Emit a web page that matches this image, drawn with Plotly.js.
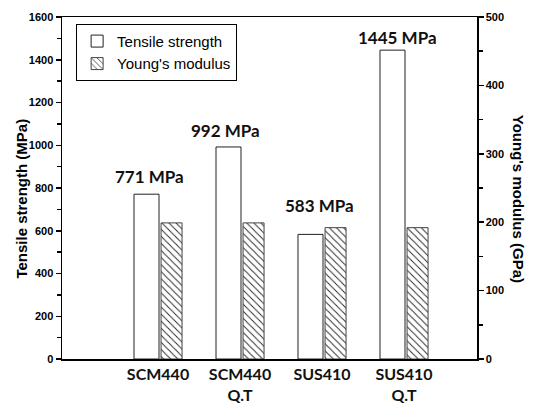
<!DOCTYPE html>
<html>
<head>
<meta charset="utf-8">
<script src="https://cdn.plot.ly/plotly-3.0.1.min.js"></script>
<style>html,body{margin:0;padding:0;background:#fff;}#chart{width:533px;height:403px;}</style>
</head>
<body>
<div id="chart"></div>
<script>
// ---- data ----
const categories = ["SCM440", "SCM440<br>Q.T", "SUS410", "SUS410<br>Q.T"];
const catPos = [1, 2, 3, 4];
const tensileStrength = [771, 992, 583, 1445];   // MPa
const youngsModulus = [199, 199, 192, 192];      // GPa
const labelTexts = ["771 MPa", "992 MPa", "583 MPa", "1445 MPa"];
const yTicks = [0, 200, 400, 600, 800, 1000, 1200, 1400, 1600];
const y2Ticks = [0, 100, 200, 300, 400, 500];

// ---- styles ----
const labelXShift = [-9, -15, -3, -7];
const labelYShift = [18, 16, 29, 13];

const traces = [
  {
    type: 'bar', name: 'Tensile strength',
    x: catPos, y: tensileStrength,
    width: 0.305, offset: -0.293,
    marker: {color: '#ffffff', line: {color: '#222', width: 1}},
    xaxis: 'x', yaxis: 'y'
  },
  {
    type: 'bar', name: "Young's modulus",
    x: catPos, y: youngsModulus,
    width: 0.256, offset: 0.037,
    marker: {color: '#ffffff', line: {color: '#444', width: 1},
             pattern: {shape: '\\', fgcolor: '#222', bgcolor: '#ffffff', size: 5, solidity: 0.18}},
    xaxis: 'x', yaxis: 'y2'
  }
];

const annotations = labelTexts.map((t, i) => ({
  x: catPos[i], y: tensileStrength[i], xref: 'x', yref: 'y',
  text: t, showarrow: false, xshift: labelXShift[i], yshift: labelYShift[i],
  font: {family: 'Lato, "Open Sans", sans-serif', size: 17, color: '#111', weight: 'bold'}
}));
annotations.push({
  xref: 'paper', yref: 'paper', x: -0.098, y: 0.47, xanchor: 'center', yanchor: 'middle',
  text: '<b>Tensile strength (MPa)</b>', textangle: -90, showarrow: false,
  font: {family: '"Liberation Sans", Arial, sans-serif', size: 15, color: '#000'}
});
annotations.push({
  xref: 'paper', yref: 'paper', x: 1.1, y: 0.47, xanchor: 'center', yanchor: 'middle',
  text: "<b>Young's modulus (GPa)</b>", textangle: 90, showarrow: false,
  font: {family: '"Liberation Sans", Arial, sans-serif', size: 15, color: '#000'}
});

const tickFont = {family: '"Liberation Sans", Arial, sans-serif', size: 11, color: '#000', weight: 'bold'};

const layout = {
  width: 533, height: 403,
  margin: {l: 62, r: 56, t: 17, b: 44, pad: 0},
  paper_bgcolor: '#fff', plot_bgcolor: '#fff',
  barmode: 'overlay',
  showlegend: true,
  legend: {
    x: 0.034, y: 0.98, xanchor: 'left', yanchor: 'top',
    bordercolor: '#000', borderwidth: 1, bgcolor: '#fff',
    font: {family: '"Liberation Sans", Arial, sans-serif', size: 15, color: '#000'},
    tracegroupgap: 0, itemwidth: 30
  },
  xaxis: {
    range: [-0.171, 4.89], tickvals: catPos, ticktext: categories,
    showline: true, linecolor: '#000', linewidth: 1.5, mirror: true,
    ticks: '', showgrid: false, zeroline: false,
    tickfont: {family: 'Lato, "Open Sans", sans-serif', size: 16, color: '#111', weight: 'bold'}
  },
  yaxis: {
    range: [0, 1600], tickvals: yTicks,
    showline: true, linecolor: '#000', linewidth: 1.5,
    ticks: 'outside', ticklen: 5, tickwidth: 1.5, tickcolor: '#000',
    minor: {dtick: 100, ticks: 'outside', ticklen: 4, tickwidth: 1.5, tickcolor: '#000', showgrid: false},
    showgrid: false, zeroline: false, tickfont: tickFont
  },
  yaxis2: {
    range: [0, 500], tickvals: y2Ticks, overlaying: 'y', side: 'right',
    showline: true, linecolor: '#000', linewidth: 1.5,
    ticks: 'outside', ticklen: 5, tickwidth: 1.5, tickcolor: '#000',
    minor: {dtick: 50, ticks: 'outside', ticklen: 4, tickwidth: 1.5, tickcolor: '#000', showgrid: false},
    showgrid: false, zeroline: false, tickfont: tickFont
  },
  annotations: annotations
};

Plotly.newPlot('chart', traces, layout, {staticPlot: true, displayModeBar: false});
</script>
</body>
</html>
